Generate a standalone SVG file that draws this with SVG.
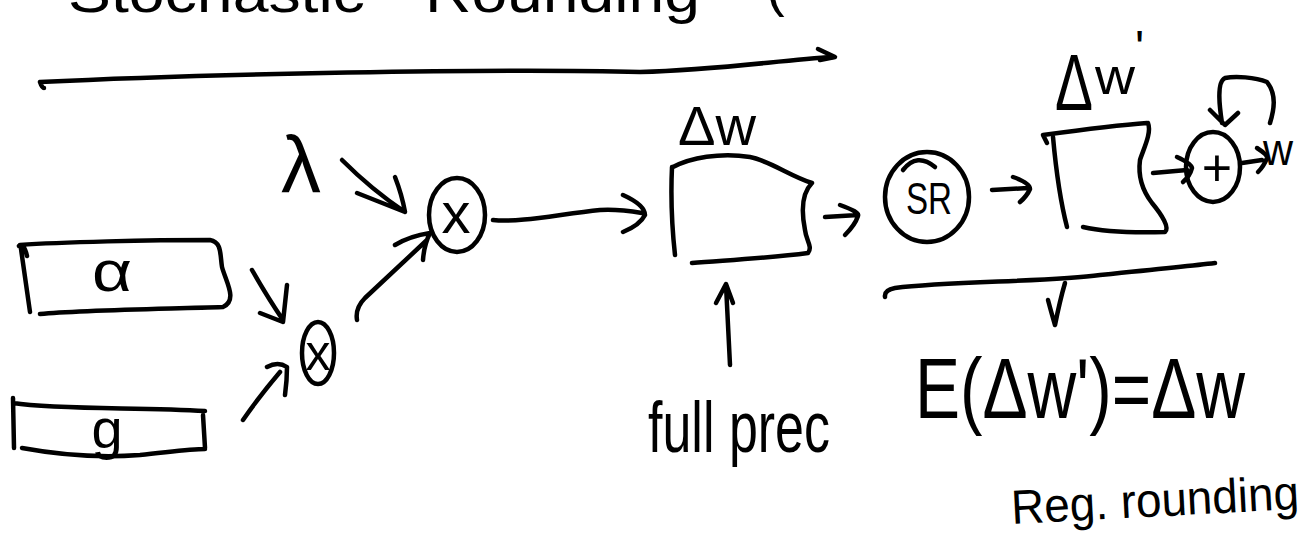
<svg xmlns="http://www.w3.org/2000/svg" width="1305" height="539" viewBox="0 0 1305 539">
<style>
.s{fill:none;stroke:#000;stroke-width:4.5;stroke-linecap:round;stroke-linejoin:round}
.t{font-family:"Liberation Sans","DejaVu Sans",sans-serif;fill:#000}
</style>
<rect width="1305" height="539" fill="#fff"/>
<g id="title">
<text class="t" x="68" y="12" font-size="56" textLength="297" lengthAdjust="spacingAndGlyphs">Stochastic</text>
<text class="t" x="425" y="12" font-size="56" textLength="275" lengthAdjust="spacingAndGlyphs">Rounding</text>
<text class="t" x="766" y="5" font-size="56">(</text>
<path class="s" d="M40,82 C200,74 500,68 640,72 C720,70 780,60 833,57 M40,82 Q42,88 44,88" stroke-width="5"/>
<path class="s" d="M818,49 L835,57 L820,60"/>
</g>
<g id="node-alpha">
<path class="s" d="M20,245 C60,242 150,240 210,240 C222,242 220,255 222,267 C226,282 238,300 223,307 C160,309 80,310 40,314 M19,246 Q24,243 27,256 M21,249 L30,312"/>
<text class="t" x="92" y="291" font-size="58" textLength="40" lengthAdjust="spacingAndGlyphs">α</text>
</g>
<g id="node-g">
<path class="s" d="M13,403 C60,410 140,407 205,411 M13,398 L14,448 M203,415 L205,448 M22,448 C60,455 100,458 140,455 C170,452 190,449 205,449"/>
<text class="t" x="107" y="448" font-size="56" text-anchor="middle">g</text>
</g>
<g id="node-lambda">
<text class="t" x="301" y="192" font-size="80" text-anchor="middle">λ</text>
</g>
<g id="node-mul-small">
<ellipse class="s" cx="318" cy="353" rx="16" ry="31"/>
<text class="t" x="318" y="370" font-size="50" text-anchor="middle">x</text>
</g>
<g id="node-mul-big">
<ellipse class="s" cx="457" cy="215" rx="28" ry="37"/>
<text class="t" x="456" y="233" font-size="58" text-anchor="middle">x</text>
</g>
<g id="node-dw">
<path class="s" d="M672,167 Q670,210 675,255 M673,167 C690,158 720,152 750,157 C770,161 790,176 812,183 C800,195 802,215 805,230 C806,240 813,247 808,253 C770,258 730,260 692,263"/>
<text class="t" x="678" y="145" font-size="56" textLength="78" lengthAdjust="spacingAndGlyphs">Δw</text>
</g>
<g id="node-sr">
<ellipse class="s" cx="927" cy="197" rx="42" ry="45"/>
<path class="s" d="M903,170 Q917,152 935,167" stroke-width="3.5"/>
<text class="t" x="929" y="214" font-size="44" text-anchor="middle" textLength="46" lengthAdjust="spacingAndGlyphs">SR</text>
</g>
<g id="node-dw-prime">
<path class="s" d="M1043,135 C1080,130 1120,125 1147,123 M1043,135 L1047,143 M1053,137 C1056,170 1060,200 1067,227 M1148,123 C1152,133 1143,150 1140,160 C1138,175 1142,190 1152,203 C1162,215 1170,228 1165,232 C1130,233 1100,231 1083,227"/>
<text class="t" x="1055" y="110" font-size="80" textLength="38" lengthAdjust="spacingAndGlyphs">Δ</text>
<text class="t" x="1095" y="94" font-size="50" textLength="40" lengthAdjust="spacingAndGlyphs">w</text>
<text class="t" x="1135" y="64" font-size="48">'</text>
</g>
<g id="node-add">
<ellipse class="s" cx="1213" cy="167" rx="27" ry="35"/>
<text class="t" x="1217" y="186" font-size="52" text-anchor="middle">+</text>
</g>
<g id="node-w">
<text class="t" x="1263" y="165" font-size="44" textLength="30" lengthAdjust="spacingAndGlyphs">w</text>
</g>
<g id="label-fullprec">
<text class="t" x="648" y="452" font-size="72" textLength="182" lengthAdjust="spacingAndGlyphs">full prec</text>
</g>
<g id="label-expect">
<text class="t" x="915" y="418" font-size="86" textLength="330" lengthAdjust="spacingAndGlyphs">E(Δw')=Δw</text>
</g>
<g id="label-reg">
<text class="t" x="1012" y="524" font-size="48" textLength="288" lengthAdjust="spacingAndGlyphs" transform="rotate(-3 1012 524)">Reg. rounding</text>
</g>
<g id="connectors">
<path class="s" d="M252,270 Q268,298 283,320 M287,285 L283,322 L260,313"/>
<path class="s" d="M243,420 Q258,398 280,372 M267,367 Q278,361 287,367 Q287,380 285,395"/>
<path class="s" d="M357,320 Q355,308 365,298 L427,240 M395,245 Q410,236 430,233 Q424,245 423,260"/>
<path class="s" d="M342,160 Q372,190 405,212 M395,177 Q402,195 405,212 L357,193"/>
<path class="s" d="M493,220 C520,223 560,214 600,210 C615,209 630,211 642,213 M623,195 Q645,205 645,215 Q640,225 623,232"/>
<path class="s" d="M825,217 L858,215 M840,205 Q860,212 858,216 Q855,225 845,235"/>
<path class="s" d="M992,190 L1028,188 M1013,177 Q1030,183 1030,189 Q1027,196 1020,202"/>
<path class="s" d="M1153,173 L1187,170 M1177,157 Q1192,164 1192,168 Q1190,176 1183,182"/>
<path class="s" d="M1270,123 C1274,110 1277,95 1267,82 C1255,77 1235,76 1225,78 C1216,82 1220,110 1222,123 M1210,110 L1225,125 L1238,113"/>
<path class="s" d="M1242,163 L1262,160 M1257,148 Q1268,155 1267,158 Q1264,166 1258,172"/>
<path class="s" d="M730,365 L726,285 M716,303 L726,284 L733,303"/>
<path class="s" d="M885,297 Q884,290 895,288 C950,281 1050,282 1100,275 C1150,270 1190,266 1215,263"/>
<path class="s" d="M1048,300 Q1052,315 1055,325 Q1060,300 1065,283"/>
</g>
</svg>
